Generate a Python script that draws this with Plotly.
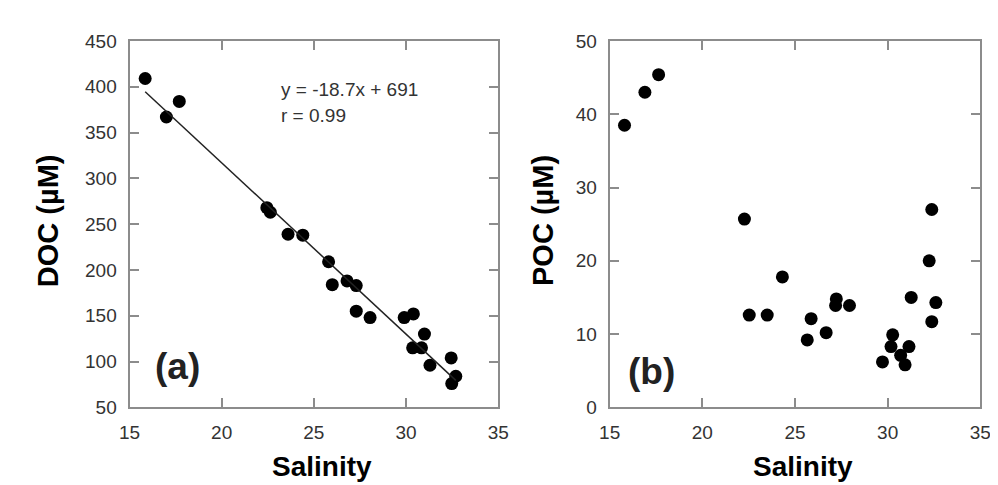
import plotly.graph_objects as go

W, H = 998, 485

# Panel (a): DOC vs salinity
sal_a = [15.85, 17.0, 17.7, 22.45, 22.64, 23.6, 24.4, 25.8, 26.0, 26.8, 27.3, 27.3,
         28.05, 29.9, 30.4, 31.0, 30.36, 30.84, 31.3, 32.45, 32.7, 32.48]
doc = [409, 367, 384, 268, 263, 239, 238, 209, 184, 188, 183, 155,
       148, 148, 152, 130, 115, 115, 96, 104, 84, 76]
slope, intercept = -18.7, 691
eq_text = "y = -18.7x + 691"
r_text = "r = 0.99"

# Panel (b): POC vs salinity
sal_b = [15.8, 16.9, 17.64, 22.27, 32.38, 32.24, 24.32, 22.53, 23.5, 25.87, 25.66,
         26.68, 27.23, 27.19, 27.94, 31.27, 32.6, 32.38, 29.72, 30.27, 30.18, 31.15,
         30.7, 30.94]
poc = [38.5, 43.0, 45.4, 25.7, 27.0, 20.0, 17.8, 12.6, 12.6, 12.1, 9.2,
       10.2, 14.8, 13.9, 13.9, 15.0, 14.3, 11.7, 6.2, 9.9, 8.3, 8.3,
       7.1, 5.8]

x_ticks = [15, 20, 25, 30, 35]
ya_ticks = [50, 100, 150, 200, 250, 300, 350, 400, 450]
yb_ticks = [0, 10, 20, 30, 40, 50]

FONT = "Liberation Sans, Arial, sans-serif"

fig = go.Figure()
fig.add_trace(go.Scatter(x=sal_a, y=doc, mode="markers",
                         marker=dict(color="black", size=13), xaxis="x", yaxis="y",
                         showlegend=False))
lx = [min(sal_a), max(sal_a)]
fig.add_trace(go.Scatter(x=lx, y=[slope * v + intercept for v in lx], mode="lines",
                         line=dict(color="#222", width=1.5), xaxis="x", yaxis="y",
                         showlegend=False))
fig.add_trace(go.Scatter(x=sal_b, y=poc, mode="markers",
                         marker=dict(color="black", size=13), xaxis="x2", yaxis="y2",
                         showlegend=False))

ax_common = dict(showline=True, linecolor="#8c8c8c", linewidth=2, mirror="ticks",
                 ticks="inside", ticklen=9, tickwidth=1.5, tickcolor="#8c8c8c",
                 showgrid=False, zeroline=False,
                 tickfont=dict(family=FONT, size=19, color="#333"))

ydom = [1 - 407 / H, 1 - 24 / H]
fig.update_layout(
    width=W, height=H, margin=dict(l=0, r=0, t=0, b=0),
    paper_bgcolor="white", plot_bgcolor="white",
    xaxis=dict(domain=[113 / W, 490 / W], range=[15, 35], tickvals=x_ticks,
               anchor="y", ticklabelstandoff=7, **ax_common),
    yaxis=dict(domain=ydom, range=[50, 450], tickvals=ya_ticks, anchor="x",
               ticklabelstandoff=7, **ax_common),
    xaxis2=dict(domain=[604 / W, 983 / W], range=[15, 35], tickvals=x_ticks,
                anchor="y2", ticklabelstandoff=7, **ax_common),
    yaxis2=dict(domain=ydom, range=[0, 50], tickvals=yb_ticks, anchor="x2",
                ticklabelstandoff=7, **ax_common),
)

def ann(text, px, py, size, bold=False, angle=0, xanchor="center", color="black"):
    fig.add_annotation(text=f"<b>{text}</b>" if bold else text,
                       x=px / W, y=1 - py / H, xref="paper", yref="paper",
                       xanchor=xanchor, yanchor="middle", showarrow=False,
                       textangle=angle, font=dict(family=FONT, size=size, color=color))

ann("Salinity", 310, 469, 28, bold=True)
ann("Salinity", 802, 469, 28, bold=True)
ann("DOC (µM)", 29, 212, 29, bold=True, angle=-90)
ann("POC (µM)", 536, 212, 29, bold=True, angle=-90)
ann(eq_text, 266, 75, 19, xanchor="left", color="#333")
ann(r_text, 266, 102, 19, xanchor="left", color="#333")
ann("(a)", 162, 364, 37, bold=True, color="#222")
ann("(b)", 647, 370, 37, bold=True, color="#222")

fig.write_html("out.html")
